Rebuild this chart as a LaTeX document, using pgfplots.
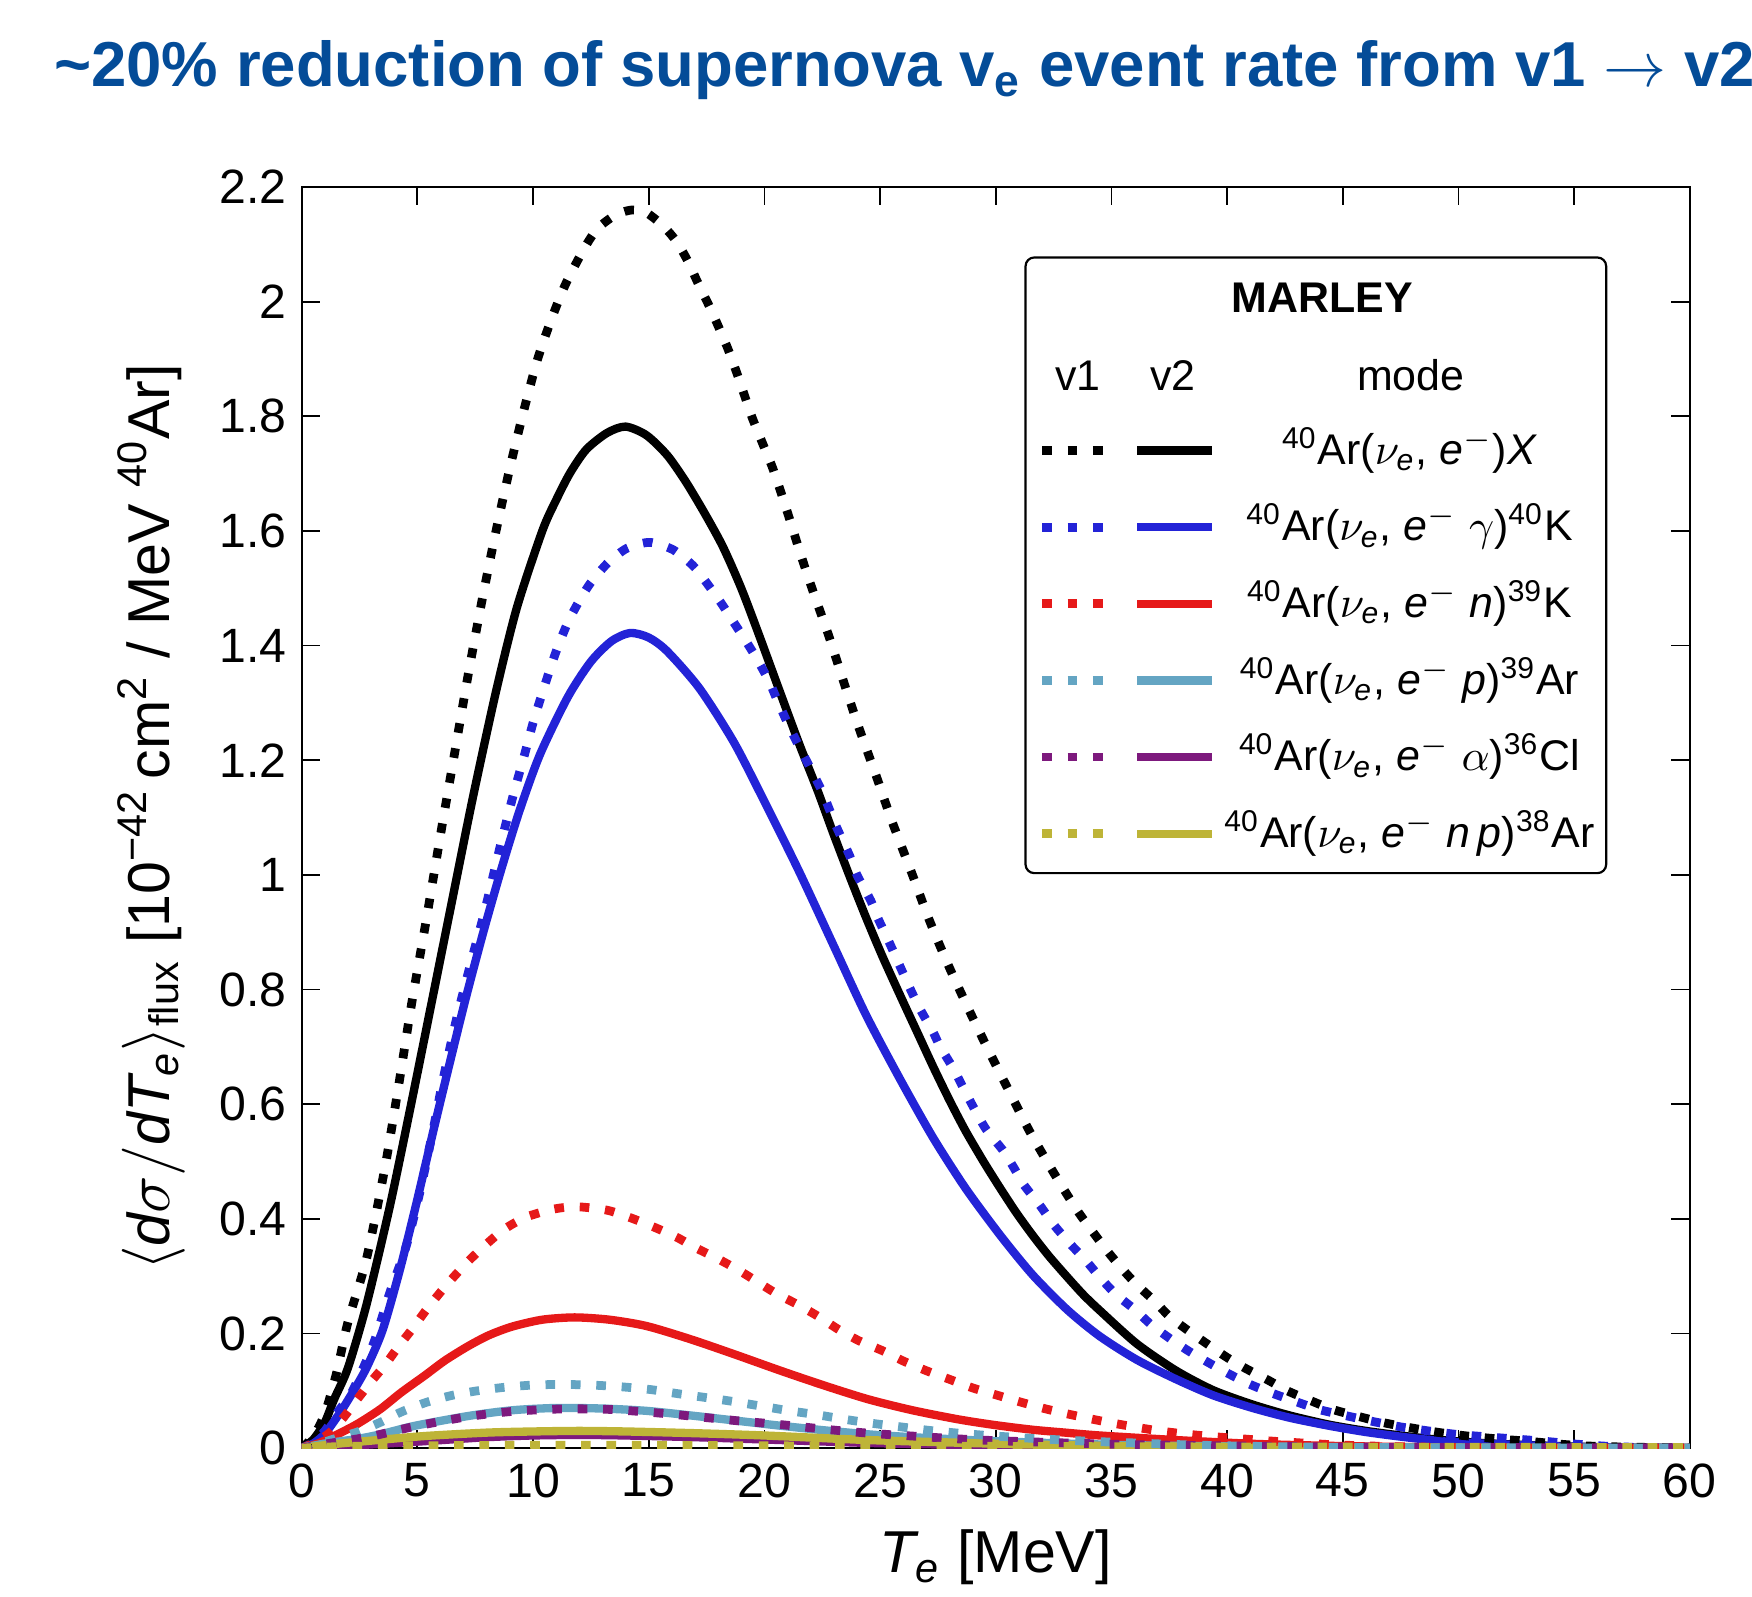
\documentclass[border=0pt]{standalone}
\usepackage{amsmath}
\usepackage{fontspec}
\setmainfont{Liberation Sans}
\usepackage{pgfplots}
\pgfplotsset{compat=1.18}
\definecolor{cblue}{RGB}{35,35,215}
\definecolor{cred}{RGB}{230,25,25}
\definecolor{ccyan}{RGB}{100,165,195}
\definecolor{cpurple}{RGB}{125,25,125}
\definecolor{colive}{RGB}{190,180,55}
\definecolor{titleblue}{RGB}{4,76,152}
\newcommand{\mi}[1]{\text{\itshape #1}}
\tikzset{
  vtwo/.style={line width=1.9pt, line join=round},
  vone/.style={line width=2pt, dash pattern=on 2.2pt off 3.6pt},
}
\begin{document}
\begin{tikzpicture}
\useasboundingbox (-68.9pt,-33.8pt) rectangle (331.2pt,330.7pt);
\begin{axis}[
  at={(0,0)}, anchor=south west,
  scale only axis, width=317pt, height=288pt,
  xmin=0, xmax=60, ymin=0, ymax=2.2,
  xtick={0,5,10,15,20,25,30,35,40,45,50,55,60},
  ytick={0,0.2,0.4,0.6,0.8,1,1.2,1.4,1.6,1.8,2,2.2},
  tick align=inside, major tick length=4.2pt,
  tick style={black, line width=0.4pt},
  /pgf/number format/assume math mode=true,
  tick label style={font=\fontsize{11}{13}\selectfont},
  label style={font=\fontsize{13.5}{16}\selectfont},
  xlabel={$\mi{T}_{\mi{e}}$ [MeV]},
  ylabel={$\langle \mi{d}\sigma / \mi{dT}_{\mi{e}} \rangle_{\text{flux}}$ [10\textsuperscript{−42}\,cm\textsuperscript{2} / MeV \textsuperscript{40}Ar]},
  xlabel style={at={(axis description cs:0.5,-0.0868)}, anchor=center},
  ylabel style={at={(axis description cs:-0.1085,0.5)}, anchor=center},
  every axis plot/.append style={smooth, tension=0.45},
]
% ---- v2 (solid) ----
\addplot[black, vtwo] coordinates {(0,0) (0.5,0.015) (1,0.045) (1.4,0.085) (2,0.14) (2.8,0.25) (3.8,0.42) (4.7,0.594) (5.7,0.794) (6.6,0.975) (7.4,1.135) (8.4,1.32) (9.3,1.466) (10.4,1.6) (11.0,1.654) (11.6,1.701) (12.3,1.742) (13.2,1.771) (14.0,1.782) (14.9,1.767) (15.8,1.732) (16.6,1.686) (17.4,1.632) (18.2,1.573) (19.0,1.5) (19.8,1.415) (20.6,1.327) (21.5,1.229) (22.3,1.147) (23.0,1.07) (23.7,0.996) (24.4,0.925) (25.1,0.858) (25.9,0.787) (26.6,0.726) (27.3,0.665) (28.0,0.607) (28.7,0.553) (29.5,0.498) (30.2,0.453) (30.9,0.41) (31.6,0.371) (32.3,0.335) (33.1,0.298) (33.8,0.267) (34.5,0.24) (36.1,0.182) (37.8,0.135) (39.4,0.101) (41.1,0.076) (42.7,0.057) (44.4,0.041) (46,0.03) (47.7,0.021) (49.3,0.014) (51,0.009) (52.6,0.006) (55.1,0.0025) (57,0.001) (60,0)};
\addplot[cblue, vtwo] coordinates {(0,0) (0.5,0.008) (1,0.025) (1.66,0.062) (2.2,0.097) (2.8,0.14) (3.5,0.206) (4.25,0.312) (4.97,0.429) (5.7,0.555) (6.4,0.672) (7.1,0.786) (7.85,0.9) (8.6,1.006) (9.4,1.11) (10.3,1.21) (11.5,1.31) (12.5,1.372) (13.4,1.408) (14.2,1.422) (15.0,1.414) (15.8,1.39) (17.2,1.325) (18.7,1.23) (20.1,1.12) (21.5,1.006) (23.0,0.876) (24.4,0.755) (25.9,0.641) (27.3,0.541) (28.7,0.453) (30.2,0.371) (31.6,0.302) (33.1,0.241) (34.5,0.195) (36.1,0.154) (37.8,0.12) (39.4,0.092) (41.1,0.07) (42.7,0.053) (44.4,0.039) (46,0.028) (47.7,0.019) (49.3,0.012) (51,0.008) (54.3,0.003) (57,0.001) (60,0)};
\addplot[cred, vtwo] coordinates {(0,0) (0.7,0.008) (1.4,0.021) (2.4,0.042) (3.4,0.068) (4.3,0.097) (5.3,0.126) (6.2,0.153) (7.2,0.178) (8.1,0.197) (9.1,0.212) (10.4,0.224) (11.8,0.228) (13.3,0.224) (14.9,0.213) (16.8,0.19) (18.75,0.163) (20.7,0.135) (22.6,0.109) (24.5,0.085) (26.4,0.066) (28.4,0.05) (30,0.04) (31.6,0.032) (33,0.027) (34.5,0.022) (37.8,0.014) (41.1,0.0075) (44.4,0.004) (47.7,0.002) (52,0.0005) (60,0)};
\addplot[ccyan, vtwo] coordinates {(0,0) (1,0.008) (2.4,0.016) (3.4,0.024) (4.9,0.039) (7.2,0.056) (9.1,0.066) (11,0.07) (13,0.069) (14.9,0.065) (16.8,0.057) (18.75,0.048) (20.7,0.039) (22.6,0.031) (24.5,0.024) (26.4,0.019) (28.4,0.015) (30,0.012) (33,0.008) (36,0.005) (40,0.003) (45,0.001) (60,0)};
\addplot[cpurple, vtwo] coordinates {(0,0) (2,0.004) (5.3,0.012) (8,0.019) (10,0.022) (12,0.023) (14,0.022) (17,0.019) (20,0.015) (24.5,0.009) (28,0.006) (32,0.004) (36,0.002) (42,0.001) (60,0)};
\addplot[colive, vtwo] coordinates {(0,0) (1.4,0.007) (3,0.013) (5.3,0.021) (8,0.027) (10,0.029) (12,0.030) (14,0.029) (17,0.026) (20,0.022) (24.5,0.014) (29.7,0.008) (33,0.005) (37,0.003) (42,0.0015) (60,0)};
% ---- v1 (dotted) ----
\addplot[black, vone] coordinates {(0,0) (0.5,0.02) (1,0.06) (1.5,0.13) (2,0.22) (2.8,0.33) (3.6,0.49) (4.2,0.635) (4.75,0.775) (5.4,0.925) (6,1.07) (6.6,1.21) (7.2,1.35) (7.8,1.48) (8.4,1.6) (9,1.71) (9.6,1.81) (10.2,1.9) (10.8,1.97) (11.4,2.03) (12.2,2.092) (12.8,2.128) (13.6,2.152) (14.3,2.16) (14.9,2.155) (15.6,2.133) (16.2,2.105) (16.7,2.07) (17.1,2.035) (17.7,1.985) (18.4,1.92) (18.9,1.865) (19.45,1.8) (20.0,1.745) (20.4,1.705) (21.0,1.632) (21.6,1.555) (22.1,1.495) (22.8,1.415) (23.4,1.34) (24.1,1.255) (24.9,1.165) (25.5,1.095) (26.4,1.0) (27.1,0.924) (27.9,0.847) (28.8,0.768) (29.7,0.693) (30.6,0.621) (31.5,0.55) (32.6,0.474) (33.6,0.41) (34.8,0.345) (35.5,0.311) (36.1,0.285) (36.9,0.255) (37.5,0.23) (38.35,0.204) (39.2,0.18) (40,0.158) (40.8,0.139) (41.8,0.118) (42.6,0.1) (43.6,0.083) (44.6,0.067) (45.8,0.054) (46.8,0.044) (48,0.035) (49.2,0.027) (50.4,0.021) (51.7,0.016) (53,0.012) (54.2,0.0075) (55.4,0.004) (57,0.002) (60,0)};
\addplot[cblue, vone] coordinates {(0,0) (0.5,0.01) (1,0.03) (1.5,0.06) (2.2,0.1) (3.1,0.182) (3.8,0.27) (4.5,0.35) (5.1,0.445) (5.7,0.559) (6.1,0.641) (6.7,0.75) (7.4,0.86) (7.9,0.935) (8.6,1.053) (9.15,1.14) (9.6,1.205) (10.0,1.265) (10.5,1.33) (11.0,1.39) (11.5,1.44) (12,1.478) (12.5,1.51) (13.25,1.545) (14.07,1.57) (15.05,1.58) (16.06,1.567) (16.9,1.54) (17.4,1.515) (18.1,1.476) (18.6,1.445) (19.2,1.408) (19.7,1.375) (20.2,1.338) (20.5,1.31) (21.0,1.265) (21.5,1.224) (22.0,1.185) (22.5,1.145) (22.8,1.115) (23.1,1.085) (23.7,1.032) (24.0,1.0) (24.6,0.955) (24.9,0.925) (25.4,0.882) (25.8,0.846) (26.2,0.81) (26.7,0.768) (27.3,0.725) (27.6,0.7) (28.2,0.66) (28.6,0.628) (29.1,0.59) (29.6,0.555) (30.3,0.52) (30.8,0.488) (31.2,0.46) (31.9,0.424) (32.5,0.39) (33.2,0.357) (33.9,0.327) (34.5,0.298) (35.2,0.268) (36,0.242) (36.7,0.216) (37.5,0.192) (38.35,0.169) (39.2,0.149) (40.1,0.129) (41,0.111) (42,0.095) (43.05,0.08) (44,0.067) (45.2,0.056) (46.35,0.046) (47.5,0.037) (48.7,0.03) (49.9,0.024) (51.1,0.02) (52.4,0.016) (53.7,0.012) (54.9,0.0075) (56.5,0.003) (58,0.001) (60,0)};
\addplot[cred, vone] coordinates {(0,0) (0.6,0.01) (1.25,0.028) (1.8,0.053) (2.4,0.085) (3.0,0.116) (3.6,0.145) (4.2,0.178) (4.8,0.209) (5.4,0.242) (6.0,0.272) (6.6,0.30) (7.3,0.33) (8.1,0.36) (8.8,0.383) (9.7,0.403) (10.9,0.417) (11.9,0.421) (13.2,0.415) (14.2,0.402) (15.2,0.386) (16.2,0.368) (17.0,0.35) (18.0,0.33) (18.9,0.31) (19.7,0.29) (20.5,0.27) (21.5,0.249) (22.4,0.228) (23.2,0.207) (24.1,0.187) (25.1,0.17) (26.0,0.152) (27.0,0.135) (28.0,0.12) (29.0,0.105) (30.0,0.093) (31.1,0.08) (32.2,0.068) (33.4,0.057) (34.6,0.047) (35.7,0.039) (36.9,0.031) (38.1,0.025) (39.4,0.02) (40.7,0.016) (42,0.012) (43.2,0.009) (44.5,0.006) (45.9,0.004) (48,0.002) (52,0.0005) (60,0)};
\addplot[ccyan, vone] coordinates {(0,0) (0.7,0.007) (1.4,0.016) (2.4,0.028) (3.4,0.045) (4.3,0.063) (5.4,0.08) (6.5,0.092) (7.6,0.1) (8.75,0.106) (10,0.11) (11.25,0.111) (12.5,0.11) (13.8,0.107) (15.1,0.102) (16.25,0.095) (17.5,0.088) (18.7,0.081) (19.9,0.073) (21.1,0.065) (22.3,0.058) (23.5,0.05) (24.7,0.043) (25.9,0.037) (27.1,0.031) (28.4,0.026) (30,0.021) (32,0.016) (34,0.012) (36,0.009) (38,0.006) (40,0.004) (43,0.002) (48,0.0008) (60,0)};
\addplot[cpurple, vone] coordinates {(0,0) (1,0.007) (2.4,0.016) (3.4,0.024) (4.9,0.038) (7.2,0.055) (9.1,0.064) (11,0.068) (13,0.068) (14.9,0.063) (16.8,0.056) (18.75,0.048) (20.7,0.041) (22.6,0.033) (24.5,0.026) (26.4,0.021) (28.4,0.016) (30,0.013) (33,0.009) (36,0.006) (40,0.004) (45,0.002) (50,0.001) (60,0.0005)};
\addplot[colive, vone] coordinates {(0,0) (2,0.003) (5,0.004) (10,0.005) (15,0.005) (20,0.004) (25,0.0035) (30,0.003) (40,0.002) (50,0.0015) (60,0.001)};
\end{axis}
% ---- legend ----
\draw[fill=white, rounded corners=2pt, line width=0.5pt] (165.3pt,131.3pt) rectangle (297.9pt,271.9pt);
\node[anchor=base, font=\bfseries\fontsize{9.8}{12}\selectfont] at (233.1pt,259.4pt) {MARLEY};
\begin{scope}[every node/.style={anchor=base, font=\fontsize{9.8}{12}\selectfont}]
\node at (177.3pt,241.5pt) {v1};
\node at (198.9pt,241.5pt) {v2};
\node at (253.3pt,241.5pt) {mode};
\node at (253pt,224.7pt) {\textsuperscript{40}Ar($\nu_{\mi{e}}$, $\mi{e}^{-}$)\textit{X}};
\node at (253pt,207.2pt) {\textsuperscript{40}Ar($\nu_{\mi{e}}$, $\mi{e}^{-}$ $\gamma$)\textsuperscript{40}K};
\node at (253pt,189.7pt) {\textsuperscript{40}Ar($\nu_{\mi{e}}$, $\mi{e}^{-}$ \textit{n})\textsuperscript{39}K};
\node at (253pt,172.2pt) {\textsuperscript{40}Ar($\nu_{\mi{e}}$, $\mi{e}^{-}$ \textit{p})\textsuperscript{39}Ar};
\node at (253pt,154.7pt) {\textsuperscript{40}Ar($\nu_{\mi{e}}$, $\mi{e}^{-}$ $\alpha$)\textsuperscript{36}Cl};
\node at (253pt,137.2pt) {\textsuperscript{40}Ar($\nu_{\mi{e}}$, $\mi{e}^{-}$ \textit{n\,p})\textsuperscript{38}Ar};
\end{scope}
\foreach \c/\yy in {black/227.8, cblue/210.3, cred/192.8, ccyan/175.3, cpurple/157.8, colive/140.3}{
  \draw[\c, vone] (169.1pt,\yy pt) -- (185.4pt,\yy pt);
  \draw[\c, vtwo] (190.8pt,\yy pt) -- (207.9pt,\yy pt);
}
% ---- title ----
\node[anchor=base west, text=titleblue, inner sep=0pt, font=\bfseries\fontsize{14.5}{17}\selectfont] at (-56.7pt,310.9pt) {\textasciitilde 20\% reduction of supernova v\textsubscript{e} event rate from v1 $\rightarrow$ v2};
\end{tikzpicture}
\end{document}
